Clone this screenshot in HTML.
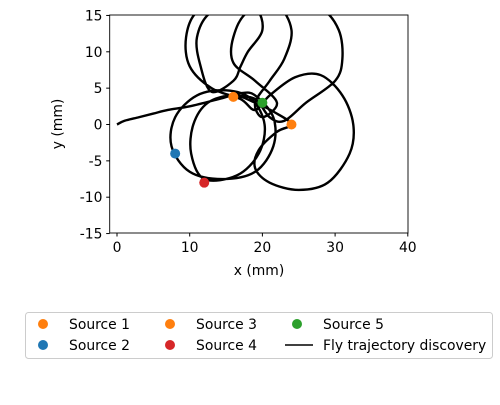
<!DOCTYPE html>
<html><head><meta charset="utf-8"><style>
body{margin:0;background:#fff;}
svg{font-family:"DejaVu Sans","Liberation Sans",sans-serif;}
</style></head><body>
<svg width="500" height="400" viewBox="0 0 500 400">
<defs><clipPath id="clip"><rect x="109.7" y="15" width="298.3" height="218"/></clipPath></defs>
<g id="plot" clip-path="url(#clip)"></g>
<rect x="109.7" y="15" width="298.3" height="218" fill="none" stroke="#000" stroke-width="0.9"/>
<g id="axes"></g>
<text x="259" y="275" font-size="13.9" text-anchor="middle">x (mm)</text>
<text transform="translate(62,124) rotate(-90)" font-size="13.9" text-anchor="middle">y (mm)</text>
<g>
<rect x="25.5" y="312.5" width="467" height="46" rx="3" fill="#fff" stroke="#ccc"/>
<g id="legend"></g>
</g>
</svg>
<script>
const sourceNames=["Source 1","Source 2","Source 3","Source 4","Source 5"];
const sourceX=[24,8,16,12,20];
const sourceY=[0,-4,3.8,-8,3];
const sourceColors=["#ff7f0e","#1f77b4","#ff7f0e","#d62728","#2ca02c"];
const trajX=[0,1,3,5,7,10,14,17,19,21.5,21.5,19,14.5,10,7.5,8,11,15,18.5,20.3,19.5,16.5,12,10.2,10.5,12.5,16,19,22,24,22,19.5,19,21,25,29,32,32.5,31,28,24.5,21,19,17,13,10,9.5,11,15,19,20,18,17,16,13,11.5,11,13,18,22,24,23,21,19,20,22,19,16,16,18,23,28,30.5,31,30,26,23,21,19,16];
const trajY=[0,0.5,1,1.5,2,2.5,3.5,4.3,4,1,-3,-6.5,-7.5,-6.5,-3,1,4,4.7,3.5,0,-4,-7,-7.5,-4,0,3,4,3,1.5,0,-1,-3.5,-6,-8,-9,-8,-4,0,4,6.8,6.5,4,2,3.5,5,8,12,15.5,17,16,13,10,8,6,4.5,8,12,15.5,17,16.5,13,9,6,3,1,3,6,8.5,12,15.5,17,16,13,9,6,3,0.5,1,3.5,4];
const X=v=>117+7.27*v, Y=v=>124.5-7.27*v;
const ns="http://www.w3.org/2000/svg";
const plot=document.getElementById('plot');
const pts=trajX.map((x,i)=>[X(x),Y(trajY[i])]);
let d="M"+pts[0][0]+","+pts[0][1];
for(let i=0;i<pts.length-1;i++){
 const p0=pts[Math.max(0,i-1)],p1=pts[i],p2=pts[i+1],p3=pts[Math.min(pts.length-1,i+2)];
 d+=" C"+(p1[0]+(p2[0]-p0[0])/6)+","+(p1[1]+(p2[1]-p0[1])/6)+" "+(p2[0]-(p3[0]-p1[0])/6)+","+(p2[1]-(p3[1]-p1[1])/6)+" "+p2[0]+","+p2[1];
}
const path=document.createElementNS(ns,'path');
path.setAttribute('d',d);path.setAttribute('fill','none');path.setAttribute('stroke','#000');path.setAttribute('stroke-width','2.4');


plot.appendChild(path);
sourceX.forEach((sx,i)=>{
 const c=document.createElementNS(ns,'circle');
 c.setAttribute('cx',X(sx));c.setAttribute('cy',Y(sourceY[i]));c.setAttribute('r','5');c.setAttribute('fill',sourceColors[i]);
 
 
 plot.appendChild(c);
});
const axes=document.getElementById('axes');
const xticks=[0,10,20,30,40], yticks=[15,10,5,0,-5,-10,-15];
xticks.forEach(t=>{
 const l=document.createElementNS(ns,'line');l.setAttribute('x1',X(t));l.setAttribute('x2',X(t));l.setAttribute('y1',233);l.setAttribute('y2',236.5);l.setAttribute('stroke','#000');
 
 
 axes.appendChild(l);
 const tx=document.createElementNS(ns,'text');tx.setAttribute('x',X(t));tx.setAttribute('y',252);tx.setAttribute('font-size','13.9');tx.setAttribute('text-anchor','middle');tx.textContent=t;
 
 
 axes.appendChild(tx);
});
yticks.forEach(t=>{
 const l=document.createElementNS(ns,'line');l.setAttribute('x1',106.2);l.setAttribute('x2',109.7);l.setAttribute('y1',Y(t));l.setAttribute('y2',Y(t));l.setAttribute('stroke','#000');
 
 
 axes.appendChild(l);
 const tx=document.createElementNS(ns,'text');tx.setAttribute('x',102.5);tx.setAttribute('y',Y(t)+5);tx.setAttribute('font-size','13.9');tx.setAttribute('text-anchor','end');tx.textContent=t;
 
 
 axes.appendChild(tx);
});
const leg=document.getElementById('legend');
const legItems=[["Source 1",43,324,sourceColors[0]],["Source 2",43,345,sourceColors[1]],["Source 3",170,324,sourceColors[2]],["Source 4",170,345,sourceColors[3]],["Source 5",297,324,sourceColors[4]]];
legItems.forEach(it=>{
 const c=document.createElementNS(ns,'circle');c.setAttribute('cx',it[1]);c.setAttribute('cy',it[2]);c.setAttribute('r','5');c.setAttribute('fill',it[3]);
 
 
 leg.appendChild(c);
 const tx=document.createElementNS(ns,'text');tx.setAttribute('x',it[1]+26);tx.setAttribute('y',it[2]+5);tx.setAttribute('font-size','13.9');tx.textContent=it[0];
 
 
 leg.appendChild(tx);
});
const ll=document.createElementNS(ns,'line');ll.setAttribute('x1',285);ll.setAttribute('x2',313);ll.setAttribute('y1',345);ll.setAttribute('y2',345);ll.setAttribute('stroke','#000');ll.setAttribute('stroke-width','1.5');


leg.appendChild(ll);
const lt=document.createElementNS(ns,'text');lt.setAttribute('x',323);lt.setAttribute('y',350);lt.setAttribute('font-size','13.9');lt.textContent="Fly trajectory discovery";


leg.appendChild(lt);
</script>
</body></html>
